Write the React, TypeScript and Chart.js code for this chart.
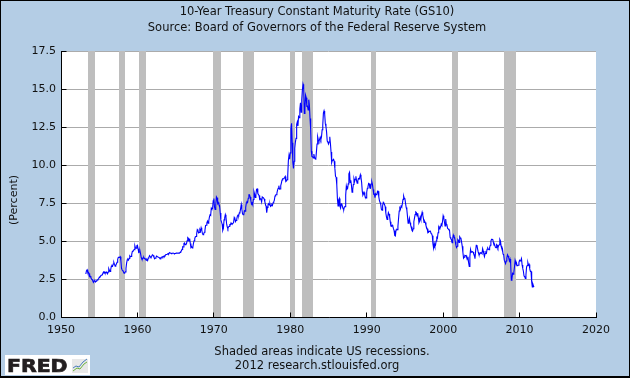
import { useEffect, useRef } from "react";
import { Chart, registerables } from "chart.js";

Chart.register(...registerables);

const chartTitle = "10-Year Treasury Constant Maturity Rate (GS10)";
const chartSubtitle = "Source: Board of Governors of the Federal Reserve System";
const yAxisLabel = "(Percent)";
const footnoteLine1 = "Shaded areas indicate US recessions.";
const footnoteLine2 = "2012 research.stlouisfed.org";
const logoText = "FRED";

const xTickValues = [1950, 1960, 1970, 1980, 1990, 2000, 2010, 2020];
const yTickValues = [0, 2.5, 5, 7.5, 10, 12.5, 15, 17.5];

// NBER recessions (peak month start, trough month end), decimal years
const recessionStart = [1953.5, 1957.583, 1960.25, 1969.917, 1973.833, 1980.0, 1981.5, 1990.5, 2001.167, 2007.917];
const recessionEnd = [1954.417, 1958.333, 1961.167, 1970.917, 1975.25, 1980.583, 1982.917, 1991.25, 2001.917, 2009.5];

// Monthly GS10, first value = April 1953
const firstYear = 1953;
const firstMonth = 4;

const gs10_1950s = [
  2.83, 3.05, 3.11, 2.93, 2.95, 2.87, 2.66, 2.68, 2.59,
  2.48, 2.47, 2.37, 2.29, 2.37, 2.38, 2.30, 2.36, 2.38, 2.43, 2.48, 2.51,
  2.61, 2.65, 2.68, 2.75, 2.76, 2.78, 2.90, 2.97, 2.97, 2.88, 2.89, 2.96,
  2.90, 2.84, 2.96, 3.18, 3.07, 3.00, 3.11, 3.33, 3.38, 3.34, 3.49, 3.59,
  3.46, 3.34, 3.41, 3.48, 3.60, 3.80, 3.93, 3.93, 3.92, 3.97, 3.72, 3.21,
  3.09, 3.05, 2.98, 2.88, 2.92, 2.97, 3.20, 3.54, 3.76, 3.80, 3.74, 3.86,
  4.02, 3.96, 3.99, 4.12, 4.31, 4.34, 4.40, 4.43, 4.68, 4.53, 4.53, 4.69,
];
const gs10_1960s = [
  4.72, 4.49, 4.25, 4.28, 4.35, 4.15, 3.90, 3.80, 3.80, 3.89, 3.93, 3.84,
  3.84, 3.78, 3.74, 3.78, 3.71, 3.88, 3.92, 4.04, 3.98, 3.92, 3.94, 4.06,
  4.08, 4.04, 3.93, 3.84, 3.87, 3.91, 4.01, 3.98, 3.98, 3.93, 3.92, 3.86,
  3.83, 3.92, 3.93, 3.97, 3.93, 3.99, 4.02, 4.00, 4.08, 4.11, 4.12, 4.13,
  4.17, 4.15, 4.22, 4.23, 4.20, 4.17, 4.19, 4.19, 4.20, 4.19, 4.15, 4.18,
  4.19, 4.21, 4.21, 4.20, 4.21, 4.21, 4.20, 4.25, 4.29, 4.35, 4.45, 4.62,
  4.61, 4.83, 4.87, 4.75, 4.78, 4.81, 5.02, 5.22, 5.18, 5.01, 5.16, 4.84,
  4.58, 4.63, 4.54, 4.59, 4.85, 5.02, 5.16, 5.28, 5.30, 5.48, 5.75, 5.70,
  5.53, 5.56, 5.74, 5.64, 5.87, 5.72, 5.50, 5.42, 5.46, 5.58, 5.70, 6.03,
  6.04, 6.19, 6.30, 6.17, 6.32, 6.57, 6.72, 6.69, 7.16, 7.10, 7.14, 7.65,
];
const gs10_1970s = [
  7.79, 7.24, 7.07, 7.39, 7.91, 7.84, 7.46, 7.53, 7.39, 7.33, 6.84, 6.39,
  6.24, 6.11, 5.70, 5.83, 6.39, 6.52, 6.73, 6.58, 6.14, 5.93, 5.81, 5.93,
  5.95, 6.08, 6.07, 6.19, 6.13, 6.11, 6.11, 6.21, 6.55, 6.48, 6.28, 6.36,
  6.46, 6.64, 6.71, 6.67, 6.85, 6.90, 7.13, 7.40, 7.09, 6.79, 6.73, 6.74,
  6.99, 6.96, 7.21, 7.51, 7.58, 7.54, 7.81, 8.04, 8.04, 7.90, 7.68, 7.43,
  7.50, 7.39, 7.73, 8.23, 8.06, 7.86, 8.06, 8.40, 8.43, 8.14, 8.05, 8.00,
  7.74, 7.79, 7.73, 7.56, 7.90, 7.86, 7.83, 7.77, 7.59, 7.41, 7.29, 6.87,
  7.21, 7.39, 7.46, 7.37, 7.46, 7.28, 7.33, 7.40, 7.34, 7.52, 7.58, 7.69,
  7.96, 8.03, 8.04, 8.15, 8.35, 8.46, 8.64, 8.41, 8.42, 8.64, 8.81, 9.01,
  9.10, 9.10, 9.12, 9.18, 9.25, 8.91, 8.95, 9.03, 9.33, 10.30, 10.65, 10.39,
];
const gs10_1980s = [
  10.80, 12.41, 12.75, 11.47, 10.18, 9.78, 10.25, 11.10, 11.51, 11.75, 12.68, 12.84,
  12.57, 13.19, 13.12, 13.68, 14.10, 13.47, 14.28, 14.94, 15.32, 15.15, 13.39, 13.72,
  14.59, 14.43, 13.86, 13.87, 13.62, 14.30, 13.95, 13.06, 12.34, 10.91, 10.55, 10.54,
  10.46, 10.72, 10.51, 10.40, 10.38, 10.85, 11.38, 11.85, 11.65, 11.54, 11.69, 11.83,
  11.67, 11.84, 12.32, 12.63, 13.41, 13.56, 13.36, 12.72, 12.52, 12.16, 11.57, 11.50,
  11.38, 11.51, 11.86, 11.43, 10.85, 10.16, 10.31, 10.33, 10.37, 10.24, 9.78, 9.26,
  9.19, 8.70, 7.78, 7.30, 7.71, 7.80, 7.30, 7.17, 7.45, 7.43, 7.25, 7.11,
  7.08, 7.25, 7.25, 8.02, 8.61, 8.40, 8.45, 8.76, 9.42, 9.52, 8.86, 8.99,
  8.67, 8.21, 8.37, 8.72, 9.09, 8.92, 9.06, 9.26, 8.98, 8.80, 8.96, 9.11,
  9.09, 9.17, 9.36, 9.18, 8.86, 8.28, 8.02, 8.11, 8.19, 8.01, 7.87, 7.84,
];
const gs10_1990s = [
  8.21, 8.47, 8.59, 8.79, 8.76, 8.48, 8.47, 8.75, 8.89, 8.72, 8.39, 8.08,
  8.09, 7.85, 8.11, 8.04, 8.07, 8.28, 8.27, 7.90, 7.65, 7.53, 7.42, 7.09,
  7.03, 7.34, 7.54, 7.48, 7.39, 7.26, 6.84, 6.59, 6.42, 6.59, 6.87, 6.77,
  6.60, 6.26, 5.98, 5.97, 6.04, 5.96, 5.81, 5.68, 5.36, 5.33, 5.72, 5.77,
  5.75, 5.97, 6.48, 6.97, 7.18, 7.10, 7.30, 7.24, 7.46, 7.74, 7.96, 7.81,
  7.78, 7.47, 7.20, 7.06, 6.63, 6.17, 6.28, 6.49, 6.20, 6.04, 5.93, 5.71,
  5.65, 5.81, 6.27, 6.51, 6.74, 6.91, 6.87, 6.64, 6.83, 6.53, 6.20, 6.30,
  6.58, 6.42, 6.69, 6.89, 6.71, 6.49, 6.22, 6.30, 6.21, 6.03, 5.88, 5.81,
  5.54, 5.57, 5.65, 5.64, 5.65, 5.50, 5.46, 5.34, 4.81, 4.53, 4.83, 4.65,
  4.72, 5.00, 5.23, 5.18, 5.54, 5.90, 5.79, 5.94, 5.92, 6.11, 6.03, 6.28,
];
const gs10_2000s = [
  6.66, 6.52, 6.26, 5.99, 6.44, 6.10, 6.05, 5.83, 5.80, 5.74, 5.72, 5.24,
  5.16, 5.10, 4.89, 5.14, 5.39, 5.28, 5.24, 4.97, 4.73, 4.57, 4.65, 5.09,
  5.04, 4.91, 5.28, 5.21, 5.16, 4.93, 4.65, 4.26, 3.87, 3.94, 4.05, 4.03,
  4.05, 3.90, 3.81, 3.96, 3.57, 3.33, 3.98, 4.45, 4.27, 4.29, 4.30, 4.27,
  4.15, 4.08, 3.83, 4.35, 4.72, 4.73, 4.50, 4.28, 4.13, 4.10, 4.19, 4.23,
  4.22, 4.17, 4.50, 4.34, 4.14, 4.00, 4.18, 4.26, 4.20, 4.46, 4.54, 4.47,
  4.42, 4.57, 4.72, 4.99, 5.11, 5.11, 5.09, 4.88, 4.72, 4.73, 4.60, 4.56,
  4.76, 4.72, 4.56, 4.69, 4.75, 5.10, 5.00, 4.67, 4.52, 4.53, 4.15, 4.10,
  3.74, 3.74, 3.51, 3.68, 3.88, 4.10, 4.01, 3.89, 3.69, 3.81, 3.53, 2.42,
  2.52, 2.87, 2.82, 2.93, 3.29, 3.72, 3.56, 3.59, 3.40, 3.39, 3.40, 3.59,
];
const gs10_2010s = [
  3.73, 3.69, 3.73, 3.85, 3.42, 3.20, 3.01, 2.70, 2.65, 2.54, 2.76, 3.29,
  3.39, 3.58, 3.41, 3.46, 3.17, 3.00, 3.00, 2.30, 1.98, 2.15, 2.01, 1.98,
];

const BG = "#B4CDE5";
const FONT = '"DejaVu Sans", Verdana, sans-serif';

function alignPx(p: number) {
  return Math.round(p - 0.5) + 0.5;
}

const fredPlugin = {
  id: "fredDecor",
  beforeDraw(chart: any) {
    const { ctx, chartArea: a, width, height } = chart;
    ctx.save();
    ctx.fillStyle = BG;
    ctx.fillRect(0, 0, width, height);
    ctx.fillStyle = "#FFFFFF";
    ctx.fillRect(a.left, a.top, a.right - a.left, a.bottom - a.top);
    ctx.restore();
  },
  beforeDatasetsDraw(chart: any) {
    const { ctx, chartArea: a } = chart;
    const xs = chart.scales.x;
    ctx.save();
    ctx.fillStyle = "#BEBEBE";
    for (let i = 0; i < recessionStart.length; i++) {
      const x0 = Math.round(xs.getPixelForValue(recessionStart[i]));
      const x1 = Math.round(xs.getPixelForValue(recessionEnd[i]));
      ctx.fillRect(x0, a.top, x1 - x0, a.bottom - a.top);
    }
    ctx.restore();
  },
  afterDatasetsDraw(chart: any) {
    const { ctx, chartArea: a } = chart;
    const xs = chart.scales.x;
    const ys = chart.scales.y;
    ctx.save();
    ctx.strokeStyle = "#000000";
    ctx.lineWidth = 1;
    const left = alignPx(a.left);
    const bottom = alignPx(a.bottom);
    ctx.beginPath();
    ctx.moveTo(left, a.top);
    ctx.lineTo(left, bottom);
    ctx.lineTo(a.right + 1, bottom);
    for (const v of yTickValues) {
      const py = alignPx(ys.getPixelForValue(v));
      ctx.moveTo(left, py);
      ctx.lineTo(left + 5, py);
    }
    for (const v of xTickValues) {
      const px = alignPx(xs.getPixelForValue(v));
      ctx.moveTo(px, bottom);
      ctx.lineTo(px, bottom - 5);
    }
    ctx.stroke();
    ctx.restore();
  },
  afterDraw(chart: any) {
    const { ctx, width, height } = chart;
    ctx.save();
    ctx.fillStyle = "#111111";
    ctx.font = "11.5px " + FONT;
    ctx.textAlign = "center";
    ctx.textBaseline = "middle";
    ctx.fillText(chartTitle, 317, 12);
    ctx.fillText(chartSubtitle, 317, 28);
    ctx.fillText(footnoteLine1, 322, 352);
    ctx.fillText(footnoteLine2, 317, 366);
    ctx.save();
    ctx.font = "11px " + FONT;
    ctx.translate(14, 200);
    ctx.rotate(-Math.PI / 2);
    ctx.fillText(yAxisLabel, 0, 0);
    ctx.restore();

    // FRED logo box
    ctx.fillStyle = "#FFFFFF";
    ctx.fillRect(5, 355, 85, 20);
    ctx.save();
    ctx.fillStyle = "#231F20";
    ctx.strokeStyle = "#231F20";
    ctx.lineWidth = 0.7;
    ctx.font = "bold 17px " + FONT;
    ctx.textAlign = "left";
    ctx.textBaseline = "alphabetic";
    ctx.translate(7, 372);
    ctx.scale(1.2, 1);
    ctx.fillText(logoText, 0, 0);
    ctx.strokeText(logoText, 0, 0);
    ctx.restore();
    ctx.fillStyle = "#E8E8E8";
    ctx.fillRect(72, 359, 16, 14);
    ctx.lineWidth = 1;
    ctx.strokeStyle = "#6DB33F";
    ctx.beginPath();
    ctx.moveTo(73, 371); ctx.lineTo(77, 368); ctx.lineTo(80, 369); ctx.lineTo(84, 364); ctx.lineTo(87, 362);
    ctx.stroke();
    ctx.strokeStyle = "#4A7EBB";
    ctx.beginPath();
    ctx.moveTo(73, 368); ctx.lineTo(76, 366); ctx.lineTo(79, 367); ctx.lineTo(83, 362); ctx.lineTo(87, 359);
    ctx.stroke();

    // outer border
    ctx.strokeStyle = "#000000";
    ctx.lineWidth = 1;
    ctx.strokeRect(0.5, 0.5, width - 1, height - 1);
    ctx.fillStyle = "#000000";
    ctx.fillRect(0, height - 2, width, 1);
    ctx.restore();
  },
};

export default function App() {
  const canvasRef = useRef<HTMLCanvasElement | null>(null);

  useEffect(() => {
    document.body.style.margin = "0";
    const canvas = canvasRef.current;
    if (!canvas) return;
    const values = [
      ...gs10_1950s,
      ...gs10_1960s,
      ...gs10_1970s,
      ...gs10_1980s,
      ...gs10_1990s,
      ...gs10_2000s,
      ...gs10_2010s,
    ];
    const points = values.map((v, i) => ({ x: firstYear + (firstMonth - 1 + i) / 12, y: v }));

    Chart.defaults.font.family = FONT;
    const chart = new Chart(canvas, {
      type: "line",
      data: {
        datasets: [
          {
            data: points,
            borderColor: "#0000FF",
            borderWidth: 1.1,
            pointRadius: 0,
            tension: 0,
            fill: false,
          },
        ],
      },
      options: {
        animation: false,
        responsive: false,
        maintainAspectRatio: false,
        parsing: false,
        layout: { padding: { top: 51, right: 34, left: 0, bottom: 0 } },
        plugins: {
          legend: { display: false },
          tooltip: { enabled: false },
          title: { display: false },
        },
        scales: {
          x: {
            type: "linear",
            min: 1950,
            max: 2020,
            afterBuildTicks(scale: any) {
              scale.ticks = xTickValues.map((v) => ({ value: v }));
            },
            ticks: {
              color: "#111111",
              font: { size: 11, family: FONT },
              padding: 7,
              maxRotation: 0,
              autoSkip: false,
              callback: (v: any) => String(v),
            },
            grid: { display: false, drawTicks: false },
            border: { display: false },
            afterFit(scale: any) {
              scale.height = 61;
            },
          },
          y: {
            min: 0,
            max: 17.5,
            afterBuildTicks(scale: any) {
              scale.ticks = yTickValues.map((v) => ({ value: v }));
            },
            ticks: {
              color: "#111111",
              font: { size: 11, family: FONT },
              padding: 5,
              autoSkip: false,
              callback: (v: any) => Number(v).toFixed(1),
            },
            grid: { color: "#ABABAB", lineWidth: 1, drawTicks: false },
            border: { display: false },
            afterFit(scale: any) {
              scale.width = 61;
            },
          },
        },
      },
      plugins: [fredPlugin],
    });
    return () => chart.destroy();
  }, []);

  return <canvas ref={canvasRef} width={630} height={378} style={{ display: "block" }} />;
}
